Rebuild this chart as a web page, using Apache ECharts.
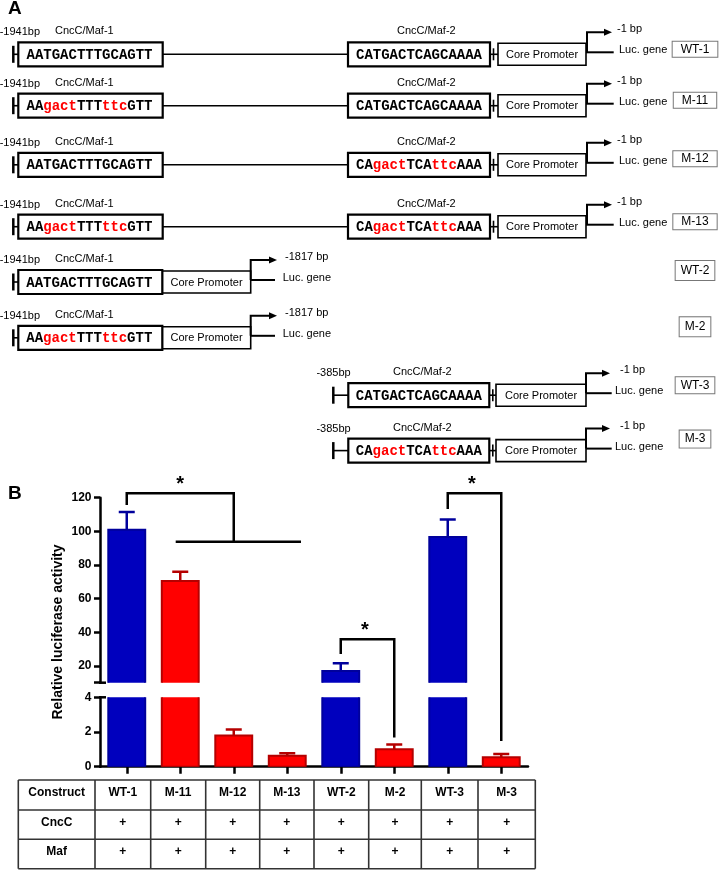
<!DOCTYPE html>
<html><head><meta charset="utf-8">
<script src="https://cdn.jsdelivr.net/npm/echarts@6/dist/echarts.min.js"></script>
<style>html,body{margin:0;padding:0;background:#fff}#c{width:724px;height:870px}</style>
</head><body><div id="c"></div>
<script>
// ---------------- DATA ----------------
const categories = ['WT-1','M-11','M-12','M-13','WT-2','M-2','WT-3','M-3'];
const activity = [101, 70.5, 1.8, 0.63, 17.0, 1.0, 96.6, 0.55];
const activitySem = [10.5, 5.5, 0.35, 0.15, 4.6, 0.28, 10.4, 0.18];
const barGroup = ['wt','mut','mut','mut','wt','mut','wt','mut'];
const upperTicks = [20, 40, 60, 80, 100, 120];
const lowerTicks = [0, 2, 4];
const tableRowHeads = ['Construct', 'CncC', 'Maf'];
const cnccRow = ['+','+','+','+','+','+','+','+'];
const mafRow = ['+','+','+','+','+','+','+','+'];
const yAxisTitle = 'Relative luciferase activity';

const site1Seqs = ['AATGACTTTGCAGTT','AAgactTTTttcGTT','AATGACTTTGCAGTT','AAgactTTTttcGTT','AATGACTTTGCAGTT','AAgactTTTttcGTT', null, null];
const site2Seqs = ['CATGACTCAGCAAAA','CATGACTCAGCAAAA','CAgactTCAttcAAA','CAgactTCAttcAAA', null, null, 'CATGACTCAGCAAAA','CAgactTCAttcAAA'];
const startLabels = ['-1941bp','-1941bp','-1941bp','-1941bp','-1941bp','-1941bp','-385bp','-385bp'];
const endLabels = ['-1 bp','-1 bp','-1 bp','-1 bp','-1817 bp','-1817 bp','-1 bp','-1 bp'];
const site1Name = 'CncC/Maf-1';
const site2Name = 'CncC/Maf-2';
const coreName = 'Core Promoter';
const lucName = 'Luc. gene';

// significance annotations: [category, value, grid]
const sigBrackets = [
  {path: [[0,115.7,0],[0,122.6,0],[2,122.6,0],[2,93.8,0]], extra: [[0.915,93.8,0],[3.257,93.8,0]], star: [1,130.5,0]},
  {path: [[4,27.1,0],[4,35.9,0],[5,35.9,0],[5,1.69,1]], star: [4.45,43.3,0]},
  {path: [[6,113.3,0],[6,122.6,0],[7,122.6,0],[7,1.48,1]], star: [6.45,130.1,0]}
];

// ---------------- CHART ----------------
const SANS = '"Liberation Sans", Arial, sans-serif';
const MONO = '"Liberation Mono", "Courier New", monospace';
const chart = echarts.init(document.getElementById('c'), null, {renderer: 'canvas'});

const barData = categories.map((c, i) => [i, activity[i], activitySem[i]]);
function renderBar(params, api) {
  const i = api.value(0), v = api.value(1), sem = api.value(2);
  const base = api.coord([i, 0]);
  const top = api.coord([i, v]);
  const errTop = api.coord([i, v + sem]);
  const bw = api.size([1, 0])[0] * 0.69;
  const wt = barGroup[i] === 'wt';
  const fill = wt ? '#0000BE' : '#FF0000';
  const stroke = wt ? '#00009C' : '#B50000';
  return {type: 'group', children: [
    {type: 'line', shape: {x1: top[0], y1: top[1], x2: top[0], y2: errTop[1]}, style: {stroke: stroke, lineWidth: 2.5}},
    {type: 'line', shape: {x1: top[0] - 8, y1: errTop[1], x2: top[0] + 8, y2: errTop[1]}, style: {stroke: stroke, lineWidth: 2.5}},
    {type: 'rect', shape: {x: top[0] - bw / 2, y: top[1], width: bw, height: base[1] - top[1]}, style: {fill: fill, stroke: stroke, lineWidth: 2}}
  ]};
}

const axisLine = {show: true, lineStyle: {color: '#000', width: 2.5}};
const option = {
  animation: false,
  grid: [
    {left: 100, width: 428, top: 497.7, height: 185},
    {left: 100, width: 428, top: 697.3, height: 69.4}
  ],
  xAxis: [
    {gridIndex: 0, type: 'category', data: categories, show: false},
    {gridIndex: 1, type: 'category', data: categories, axisLine: axisLine,
      axisTick: {show: true, alignWithLabel: true, length: 7, lineStyle: {color: '#000', width: 2.5}},
      axisLabel: {show: false}}
  ],
  yAxis: [
    {gridIndex: 0, type: 'value', min: 10, max: 120, interval: 10, axisLine: axisLine, splitLine: {show: false},
      axisTick: {show: true, length: 6, lineStyle: {color: '#000', width: 2.5}, customValues: [10].concat(upperTicks)},
      axisLabel: {customValues: upperTicks, color: '#000', fontSize: 12, fontWeight: 'bold', fontFamily: SANS, margin: 8.5}},
    {gridIndex: 1, type: 'value', min: 0, max: 4, interval: 2, axisLine: axisLine, splitLine: {show: false},
      axisTick: {show: true, length: 6, lineStyle: {color: '#000', width: 2.5}, customValues: lowerTicks},
      axisLabel: {customValues: lowerTicks, color: '#000', fontSize: 12, fontWeight: 'bold', fontFamily: SANS, margin: 8.5}}
  ],
  series: [
    {type: 'custom', xAxisIndex: 0, yAxisIndex: 0, clip: true, data: barData, encode: {x: 0, y: 1}, renderItem: renderBar},
    {type: 'custom', xAxisIndex: 1, yAxisIndex: 1, clip: true, data: barData, encode: {x: 0, y: 1}, renderItem: renderBar}
  ]
};
chart.setOption(option);

// ---------------- GRAPHICS ----------------
const G = [];
function gline(x1, y1, x2, y2, w, c) { G.push({type: 'line', shape: {x1, y1, x2, y2}, style: {stroke: c || '#000', lineWidth: w || 1.5}}); }
function gpoly(points, w, c) { G.push({type: 'polyline', shape: {points}, style: {stroke: c || '#000', lineWidth: w || 2, fill: null}}); }
function grect(x, y, w, h, lw, c) { G.push({type: 'rect', shape: {x, y, width: w, height: h}, style: {fill: '#fff', stroke: c || '#000', lineWidth: lw}}); }
function gtext(x, y, t, o) {
  const st = Object.assign({text: t, fontFamily: SANS, fontSize: 11, fontWeight: 'normal', fill: '#000',
    align: 'left', textAlign: 'left', verticalAlign: 'middle', textVerticalAlign: 'middle'}, o || {});
  if (st.align) st.textAlign = st.align;
  G.push({type: 'text', x, y, rotation: (o && o.rot) || 0, style: st});
}
function seqRich(seq) {
  let out = '', cur = '', curType = null;
  for (const ch of seq) {
    const t = (ch === ch.toLowerCase()) ? 'r' : 'k';
    if (t !== curType && cur) { out += '{' + curType + '|' + cur + '}'; cur = ''; }
    curType = t; cur += ch;
  }
  if (cur) out += '{' + curType + '|' + cur + '}';
  return out;
}
function seqText(x, y, seq) {
  const f = {fontFamily: MONO, fontSize: 14, fontWeight: 'bold'};
  G.push({type: 'text', x, y, style: {text: seqRich(seq), fontFamily: MONO, fontSize: 14, fontWeight: 'bold',
    align: 'center', textAlign: 'center', verticalAlign: 'middle', textVerticalAlign: 'middle',
    rich: {k: Object.assign({fill: '#000', color: '#000'}, f), r: Object.assign({fill: '#FF0000', color: '#FF0000'}, f)}}});
}
function arrowHead(x, y) { G.push({type: 'polygon', shape: {points: [[x - 8, y - 3.5], [x, y], [x - 8, y + 3.5]]}, style: {fill: '#000'}}); }

// Panel letters
gtext(8, 9, 'A', {fontSize: 19, fontWeight: 'bold'});
gtext(8, 494, 'B', {fontSize: 19, fontWeight: 'bold'});

// Panel A rows
const rowCy = [54.3, 105.7, 164.8, 226.7, 282, 337.8, 395.2, 450.6];
const layouts = {
  full: {bar: 13.3, b1: [18.3, 162.7], b2: [348, 490], core: [498, 586], ax: 587, aEnd: 612, lEnd: 613.7, eX: 617, lX: 619, s2X: 397, startR: 40},
  s1: {bar: 13.3, b1: [18.3, 162.3], core: [162.3, 250.7], ax: 250.7, aEnd: 277, lEnd: 275, eX: 285, lX: 282.7, startR: 40},
  s2: {bar: 333.3, b2: [348.3, 489.3], core: [496, 586], ax: 586, aEnd: 610, lEnd: 611.7, eX: 620, lX: 615, s2X: 393, startR: 350.7}
};
const tagDy = [-5, -5.5, -6, -5, -11.5, -11, -10, -11.5];
const tagPad = [[2,8,1,8],[2,8,1,8],[2,8,1,8],[2,8,1,8],[4,5,3,5],[4,5,3,5],[2,5,2,5],[3,5,2,5]];
categories.forEach((name, i) => {
  const cy = rowCy[i];
  const L = site1Seqs[i] && site2Seqs[i] ? layouts.full : (site1Seqs[i] ? layouts.s1 : layouts.s2);
  const bh = 24, ch = 22;
  gtext(L.startR, cy - 22, startLabels[i], {align: 'right'});
  gline(L.bar, cy - 8.5, L.bar, cy + 8.5, 2.5);
  const firstBox = L.b1 ? L.b1[0] : L.b2[0];
  gline(L.bar, cy, firstBox, cy, 1.6);
  if (L.b1 && L.b2) gline(L.b1[1], cy, L.b2[0], cy, 1.6);
  if (L.b2) {
    gline(L.b2[1], cy, L.core[0], cy, 1.6);
    gline(L.b2[1] + 3.5, cy - 6, L.b2[1] + 3.5, cy + 6, 1.6);
  }
  grect(L.core[0], cy - ch / 2, L.core[1] - L.core[0], ch, 1.6);
  gtext((L.core[0] + L.core[1]) / 2, cy + 0.5, coreName, {align: 'center'});
  if (L.b1) {
    grect(L.b1[0], cy - bh / 2, L.b1[1] - L.b1[0], bh, 2.2);
    seqText((L.b1[0] + L.b1[1]) / 2 - 1, cy + 1, site1Seqs[i]);
    gtext(55, cy - 23, site1Name);
  }
  if (L.b2) {
    grect(L.b2[0], cy - bh / 2, L.b2[1] - L.b2[0], bh, 2.2);
    seqText((L.b2[0] + L.b2[1]) / 2, cy + 1, site2Seqs[i]);
    gtext(L.s2X, cy - 23, site2Name);
  }
  gline(L.core[1], cy - 2, L.lEnd, cy - 2, 2);
  gpoly([[L.ax, cy - 2], [L.ax, cy - 22], [L.aEnd - 6, cy - 22]], 2);
  arrowHead(L.aEnd, cy - 22);
  gtext(L.eX, cy - 25, endLabels[i]);
  gtext(L.lX, cy - 4, lucName);
  G.push({type: 'text', x: 695, y: cy + tagDy[i], style: {text: name, fontFamily: SANS, fontSize: 12, fill: '#000',
    align: 'center', textAlign: 'center', verticalAlign: 'middle', textVerticalAlign: 'middle',
    backgroundColor: '#fff', borderColor: '#777', borderWidth: 1, padding: tagPad[i]}});
});

// y axis title
gtext(58, 632, yAxisTitle, {align: 'center', fontSize: 14, fontWeight: 'bold', rot: Math.PI / 2});

// axis break caps
const capTop = chart.convertToPixel({xAxisIndex: 0, yAxisIndex: 0}, [0, 10]);
const capBot = chart.convertToPixel({xAxisIndex: 1, yAxisIndex: 1}, [0, 4]);
gline(99, capTop[1], 106, capTop[1], 2.5);
gline(99, capBot[1], 106, capBot[1], 2.5);

// significance brackets
function toPx(p) {
  const g = p[2];
  const a = chart.convertToPixel({xAxisIndex: g, yAxisIndex: g}, [0, p[1]]);
  const b = chart.convertToPixel({xAxisIndex: g, yAxisIndex: g}, [1, p[1]]);
  return [a[0] + p[0] * (b[0] - a[0]), a[1]];
}
sigBrackets.forEach(br => {
  gpoly(br.path.map(toPx), 2.5);
  if (br.extra) gpoly(br.extra.map(toPx), 2.5);
  const s = toPx(br.star);
  gtext(s[0], s[1] + 4, '*', {align: 'center', fontSize: 20, fontWeight: 'bold'});
});

// table
const colX = [18.3, 95, 150.7, 205.7, 259.7, 314, 368.7, 421.3, 478, 535.3];
const rowY = [780, 810, 839.3, 868.7];
colX.forEach(x => gline(x, rowY[0], x, rowY[3], 1.6, '#333'));
rowY.forEach(y => gline(colX[0], y, colX[colX.length - 1], y, 1.6, '#333'));
const tableRows = [categories, cnccRow, mafRow];
tableRows.forEach((vals, r) => {
  const y = (rowY[r] + rowY[r + 1]) / 2 - 2;
  gtext((colX[0] + colX[1]) / 2, y, tableRowHeads[r], {align: 'center', fontSize: 12, fontWeight: 'bold'});
  vals.forEach((v, c) => gtext((colX[c + 1] + colX[c + 2]) / 2, y, v, {align: 'center', fontSize: 12, fontWeight: 'bold'}));
});

chart.setOption({graphic: {elements: G}});
</script></body></html>
